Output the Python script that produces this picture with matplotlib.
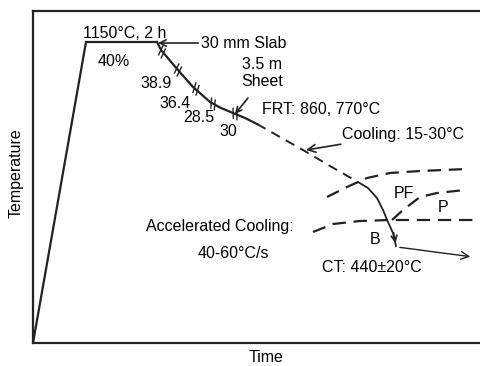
import numpy as np
import matplotlib
matplotlib.use("Agg")
from matplotlib import pyplot as plt

plt.rcParams['font.family'] = ['Liberation Sans', 'DejaVu Sans']

# schematic path, in picture units (x to the right, y downward)
heat_x = [33, 86, 157]
heat_y = [343, 42, 42]
roll_x = [157, 161, 167, 172, 178, 185, 193, 201, 210, 221, 233, 245, 257]
roll_y = [42, 50, 57, 63, 70, 78, 87, 94, 102, 108, 113, 118, 124]
air_x = [257, 303, 330, 358]
air_y = [124, 150, 166, 182]
acc_x = [358, 368, 377, 383, 388, 393, 396]
acc_y = [182, 188, 198, 210, 222, 233, 246]
coil_x = [397, 473]
coil_y = [247, 257]

# rolling passes (marks on the curve) and reductions
pass_x = [162, 178, 196, 213, 235]
pass_y = [52, 70, 89, 104, 114]
red_labels = ['40%', '38.9', '36.4', '28.5', '30']
red_x = [114, 156, 175, 199, 228]
red_y = [62, 83, 103, 118, 132]

# transformation boundaries
top_x = [327, 347, 367, 390, 420, 467]
top_y = [197, 187, 178, 173, 171, 169]
pf_x = [392, 403, 420, 437, 465]
pf_y = [220, 210, 197, 193, 190]
bot_x = [313, 333, 360, 390, 480]
bot_y = [232, 224, 221, 220, 220]

C = '#222222'
fig = plt.figure(figsize=(4.8, 3.66), dpi=100)
ax = fig.add_axes([33/480, 23/366, 447/480, 332/366])
ax.set_xlim(33, 480)
ax.set_ylim(343, 11)
ax.set_xticks([])
ax.set_yticks([])
ax.spines['right'].set_visible(False)
for s in ['left', 'top', 'bottom']:
    ax.spines[s].set_linewidth(1.6)
    ax.spines[s].set_color(C)

ax.plot(heat_x, heat_y, color=C, lw=1.6, solid_joinstyle='miter')
ax.plot(roll_x, roll_y, color=C, lw=1.6)
ax.plot(air_x, air_y, color=C, lw=1.4, dashes=(5, 3.5))
ax.plot(acc_x, acc_y, color=C, lw=1.3)
ax.annotate('', xy=(acc_x[-1], acc_y[-1]), xytext=(acc_x[-2], acc_y[-2] - 3),
            arrowprops=dict(arrowstyle='->', color=C, lw=1.3))
ax.annotate('', xy=(coil_x[1], coil_y[1]), xytext=(coil_x[0], coil_y[0]),
            arrowprops=dict(arrowstyle='->', color=C, lw=1.0,
                            mutation_scale=14))

# pass marks: two short strokes across the curve
for px, py in zip(pass_x, pass_y):
    i = np.searchsorted(roll_x, px)
    i = min(max(i, 1), len(roll_x) - 1)
    dx = roll_x[i] - roll_x[i-1]
    dy = roll_y[i] - roll_y[i-1]
    n = np.hypot(dx, dy)
    tx, ty = dx / n, dy / n
    nx, ny = -ty, tx
    for k in (-2, 2):
        cx, cy = px + tx * k, py + ty * k
        ax.plot([cx - nx * 4.5 - tx * 2, cx + nx * 4.5 + tx * 2],
                [cy - ny * 4.5 - ty * 2, cy + ny * 4.5 + ty * 2],
                color=C, lw=1.0)

for xs, ys in [(top_x, top_y), (pf_x, pf_y), (bot_x, bot_y)]:
    ax.plot(xs, ys, color=C, lw=1.6, dashes=(6, 3.5))

fs = 11.5
ax.text(83, 33, '1150°C, 2 h', fontsize=fs, va='center', ha='left')
for t, x, y in zip(red_labels, red_x, red_y):
    ax.text(x, y, t, fontsize=fs, ha='center', va='center')

ax.annotate('30 mm Slab', xy=(158, 43), xytext=(201, 43), fontsize=fs,
            va='center', ha='left',
            arrowprops=dict(arrowstyle='->', color=C, lw=1.2,
                            shrinkA=0, shrinkB=0))
ax.text(262, 73, '3.5 m\nSheet', fontsize=fs, ha='center', va='center',
        linespacing=1.1)
ax.annotate('', xy=(235, 114), xytext=(248, 98),
            arrowprops=dict(arrowstyle='->', color=C, lw=1.2,
                            shrinkA=0, shrinkB=0))
ax.text(262, 109, 'FRT: 860, 770°C', fontsize=fs, va='center', ha='left')
ax.annotate('Cooling: 15-30°C', xy=(306, 150), xytext=(342, 134),
            fontsize=fs, va='center', ha='left',
            arrowprops=dict(arrowstyle='->', color=C, lw=1.2,
                            shrinkA=0, shrinkB=0, mutation_scale=14))
ax.text(404, 193, 'PF', fontsize=fs, ha='center', va='center')
ax.text(443, 208, 'P', fontsize=fs, ha='center', va='center')
ax.text(220, 227, 'Accelerated Cooling:', fontsize=fs, ha='center',
        va='center')
ax.text(233, 253, '40-60°C/s', fontsize=fs, ha='center', va='center')
ax.text(375, 239, 'B', fontsize=fs, ha='center', va='center')
ax.text(372, 268, 'CT: 440±20°C', fontsize=fs, ha='center', va='center')

ax.set_ylabel('Temperature', fontsize=fs)
ax.set_xlabel('Time', fontsize=fs)
ax.yaxis.set_label_coords(-0.022, 0.512)
ax.xaxis.set_label_coords(0.521, -0.022)

fig.savefig('out.png', dpi=100)
